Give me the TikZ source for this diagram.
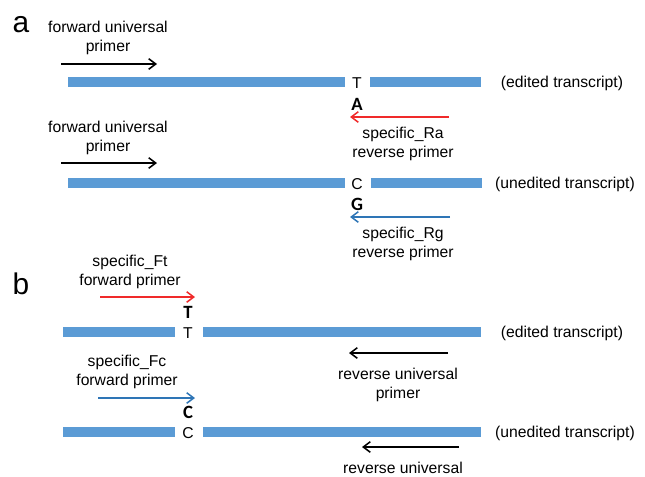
\documentclass[tikz,border=0pt]{standalone}
\usepackage{fontspec}
\setmainfont{Liberation Sans}
\newfontfamily\basefont{Carlito}
\usetikzlibrary{arrows.meta}
\definecolor{barblue}{HTML}{5B9BD5}
\definecolor{primred}{HTML}{F02A2A}
\definecolor{primblue}{HTML}{2E75B6}
\tikzset{
  bar/.style={barblue, line width=8.5pt},
  primer/.style={-{Straight Barb[length=6pt,width=9pt]}, line width=1.3pt},
  lbl/.style={font=\fontsize{13.4}{16.2}\selectfont, align=center, inner sep=0pt},
  base/.style={font=\fontsize{16}{18}\selectfont\basefont\bfseries, inner sep=0pt},
  panel/.style={font=\fontsize{25.5}{28}\selectfont, inner sep=0pt}
}

\begin{document}
\begin{tikzpicture}[x=0.03cm, y=-0.03cm]
    \useasboundingbox (0,0) rectangle (645,477);
    % panel a
    \node[panel] (pa) at (21,25) {a};
    % edited
    \node[lbl] (fwdA) at (108,38) {forward universal\\primer};
    \coordinate (fwdAs) at (61,64);
    \coordinate (fwdAe) at (157,64);
    \draw[primer] (fwdAs) -- (fwdAe);
    \draw[bar] (68,82) -- (345,82);
    \draw[bar] (370,82) -- (481,82);
    \node[lbl] (siteT) at (357,83) {T};
    \node[lbl] (edA) at (562,83) {(edited transcript)};
    \node[base] (baseA) at (357,104) {A};
    \coordinate (raS) at (449,117);
    \coordinate (raE) at (350,117);
    \draw[primer, primred] (raS) -- (raE);
    \node[lbl] (raTxt) at (403,144) {specific\_Ra\\reverse primer};
    % unedited
    \node[lbl] (fwdB) at (108,138) {forward universal\\primer};
    \coordinate (fwdBs) at (61,163);
    \coordinate (fwdBe) at (157,163);
    \draw[primer] (fwdBs) -- (fwdBe);
    \draw[bar] (68,183) -- (345,183);
    \draw[bar] (371,183) -- (482,183);
    \node[lbl] (siteC) at (357,184) {C};
    \node[lbl] (uneA) at (565,184) {(unedited transcript)};
    \node[base] (baseG) at (357,204) {G};
    \coordinate (rgS) at (450,217);
    \coordinate (rgE) at (350,217);
    \draw[primer, primblue] (rgS) -- (rgE);
    \node[lbl] (rgTxt) at (403,244) {specific\_Rg\\reverse primer};

    % panel b
    \node[panel] (pb) at (21,284) {b};
    % edited
    \node[lbl] (ftTxt) at (130,272) {specific\_Ft\\forward primer};
    \coordinate (ftS) at (100,297);
    \coordinate (ftE) at (195,297);
    \draw[primer, primred] (ftS) -- (ftE);
    \node[base] (baseT) at (188,312) {T};
    \draw[bar] (63,332) -- (175,332);
    \draw[bar] (203,332) -- (481,332);
    \node[lbl] (siteT2) at (188,333) {T};
    \node[lbl] (edB) at (562,333) {(edited transcript)};
    \coordinate (revAs) at (448,353);
    \coordinate (revAe) at (349,353);
    \draw[primer] (revAs) -- (revAe);
    \node[lbl] (revA) at (398,385) {reverse universal\\primer};
    % unedited
    \node[lbl] (fcTxt) at (127,372) {specific\_Fc\\forward primer};
    \coordinate (fcS) at (98,398);
    \coordinate (fcE) at (195,398);
    \draw[primer, primblue] (fcS) -- (fcE);
    \node[base] (baseC) at (188,412) {C};
    \draw[bar] (63,432) -- (175,432);
    \draw[bar] (203,432) -- (481,432);
    \node[lbl] (siteC2) at (188,433) {C};
    \node[lbl] (uneB) at (565,433) {(unedited transcript)};
    \coordinate (revBs) at (459,447);
    \coordinate (revBe) at (362,447);
    \draw[primer] (revBs) -- (revBe);
    \node[lbl] (revB) at (403,468) {reverse universal};
\end{tikzpicture}
\end{document}
